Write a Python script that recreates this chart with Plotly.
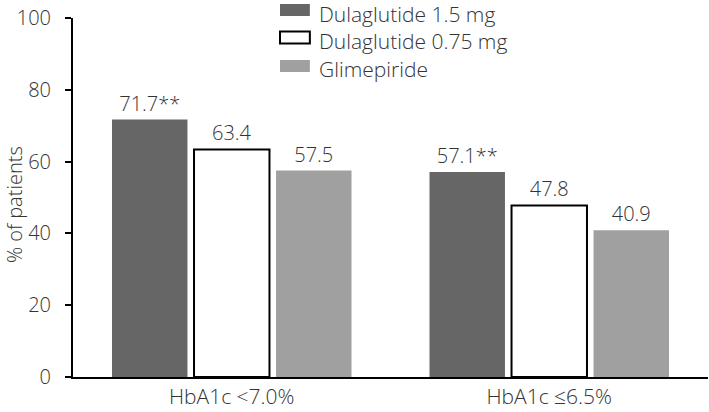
import plotly.graph_objects as go

# categories and values
categories = ["HbA1c <7.0%", "HbA1c ≤6.5%"]
series_names = ["Dulaglutide 1.5 mg", "Dulaglutide 0.75 mg", "Glimepiride"]
dula_15 = [71.7, 57.1]
dula_075 = [63.4, 47.8]
glimepiride = [57.5, 40.9]
dula_15_labels = ["71.7**", "57.1**"]
dula_075_labels = ["63.4", "47.8"]
glim_labels = ["57.5", "40.9"]

font_family = "Open Sans, Noto Sans, sans-serif"
text_color = "#333333"
fsize = 20
fills = ["#666666", "white", "#a0a0a0"]
outlines = [0, 2, 0]

fig = go.Figure()
for name, vals, labels, fill, lw in zip(series_names, [dula_15, dula_075, glimepiride],
                                        [dula_15_labels, dula_075_labels, glim_labels],
                                        fills, outlines):
    fig.add_trace(go.Bar(x=categories, y=vals, name=name,
                         text=labels, textposition="outside", cliponaxis=False,
                         textfont=dict(size=fsize, color=text_color, family=font_family, weight=300),
                         marker=dict(color=fill, line=dict(color="black", width=lw))))

fig.update_layout(
    width=709, height=412,
    margin=dict(l=73, r=1, t=18, b=35, autoexpand=False),
    paper_bgcolor="white", plot_bgcolor="white",
    barmode="group", bargap=0.225, bargroupgap=0.08,
    font=dict(family=font_family, size=fsize, color=text_color, weight=300),
    showlegend=False,
)
fig.update_xaxes(showline=True, linecolor="black", linewidth=2, ticks="",
                 showgrid=False, tickfont=dict(size=21, color=text_color, weight=300))
fig.update_yaxes(range=[0, 100], dtick=20, showline=True, linecolor="black", linewidth=2,
                 ticks="outside", ticklen=6, tickwidth=2, tickcolor="black",
                 showgrid=False, zeroline=False, ticklabelstandoff=10,
                 ticklabeloverflow="allow",
                 tickfont=dict(size=fsize, color=text_color, weight=300))

# y-axis title placed freely so it sits beside the two-digit tick labels
fig.add_annotation(text="% of patients", xref="paper", yref="paper",
                   x=-0.0929, y=0.479, xanchor="center", yanchor="middle",
                   textangle=-90, showarrow=False,
                   font=dict(size=fsize, color=text_color, weight=300))

# legend drawn by hand: wide flat swatches like the original
swatch_y = [1.0223, 0.9457, 0.8663]
label_y = [1.0111, 0.9359, 0.8579]
for name, fill, lw, sy, ly in zip(series_names, fills, outlines, swatch_y, label_y):
    fig.add_shape(type="rect", xref="paper", yref="paper",
                  x0=0.326, x1=0.373, y0=sy - 0.0167, y1=sy + 0.0167,
                  fillcolor=fill, line=dict(color="black", width=lw))
    fig.add_annotation(text=name, xref="paper", yref="paper", x=0.384, y=ly,
                       xanchor="left", yanchor="middle", showarrow=False,
                       font=dict(size=21, color=text_color, weight=300))

# drop the browser's default body margin so the figure sits at the page corner
fig.write_html("out.html", config={"displayModeBar": False},
               post_script="document.body.style.margin = '0';")
